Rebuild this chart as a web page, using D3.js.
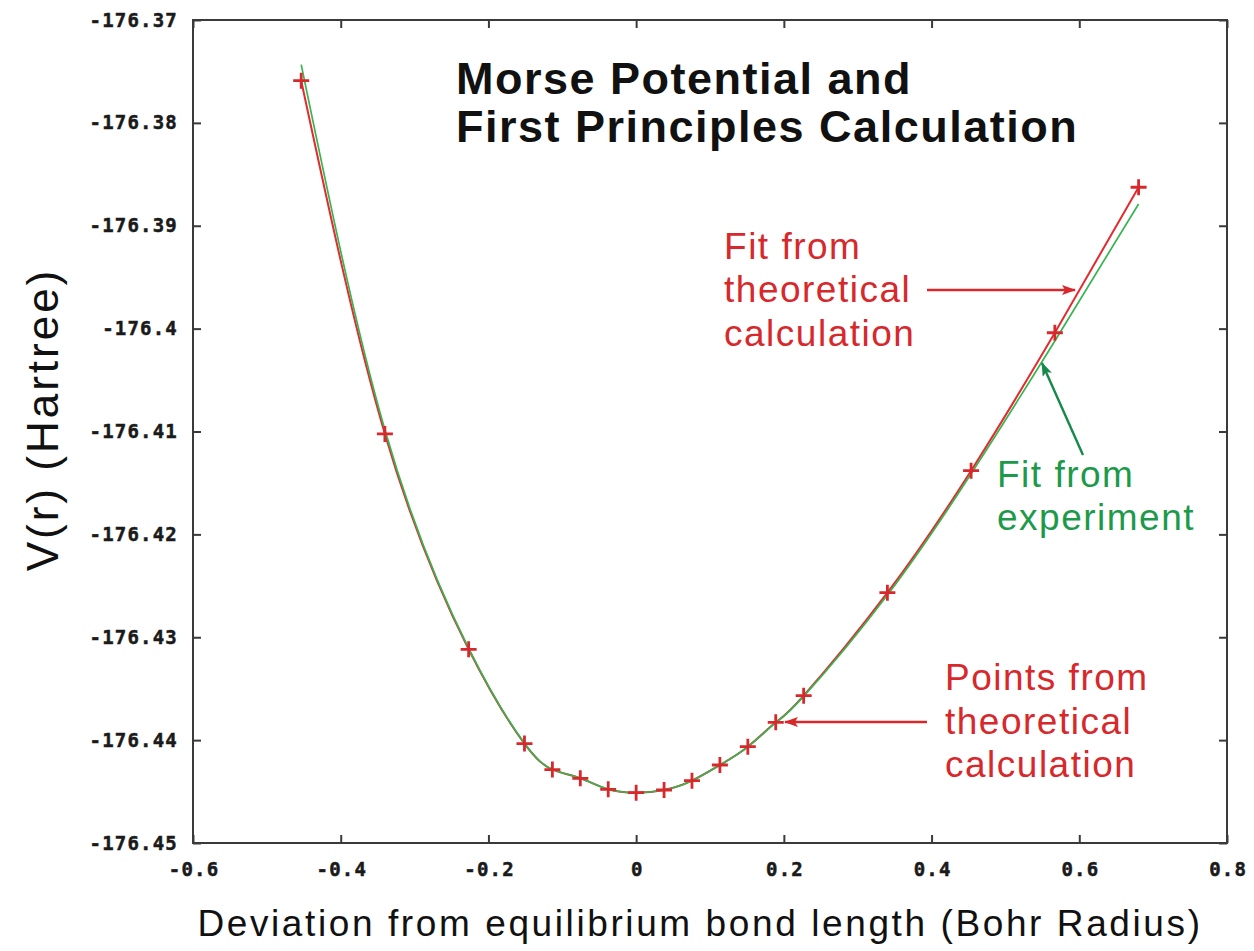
<!DOCTYPE html>
<html>
<head>
<meta charset="utf-8">
<script src="https://cdn.jsdelivr.net/npm/d3@7"></script>
<style>
  html, body { margin: 0; padding: 0; background: #fff; }
  svg { display: block; }
</style>
</head>
<body>
<svg id="chart" width="1254" height="951"></svg>
<script>
// ---------------- data ----------------
const xTickValues = [-0.6, -0.4, -0.2, 0, 0.2, 0.4, 0.6, 0.8];
const xTickLabels = ["-0.6", "-0.4", "-0.2", "0", "0.2", "0.4", "0.6", "0.8"];
const yTickValues = [-176.37, -176.38, -176.39, -176.40, -176.41, -176.42, -176.43, -176.44, -176.45];
const yTickLabels = ["-176.37", "-176.38", "-176.39", "-176.4", "-176.41", "-176.42", "-176.43", "-176.44", "-176.45"];

// points from theoretical calculation (deviation in Bohr, energy in Hartree)
const pointX = [-0.4535, -0.3402, -0.2268, -0.1512, -0.1134, -0.0756, -0.0378, 0.0, 0.0378, 0.0756,
                0.1134, 0.1512, 0.1890, 0.2268, 0.3402, 0.4535, 0.5669, 0.6803];
const pointV = [-176.37590, -176.41024, -176.43117, -176.44034, -176.44286, -176.44371, -176.44478, -176.44511, -176.44485, -176.44394,
                -176.44242, -176.44064, -176.43827, -176.43568, -176.42567, -176.41381, -176.40040, -176.38626];

// Morse fit from theoretical calculation
const theoryFitX = [-0.4535, -0.3402, -0.2268, -0.1512, -0.1134, -0.0756, -0.0378, 0.0, 0.0378, 0.0756,
                    0.1134, 0.1512, 0.1890, 0.2268, 0.3402, 0.4535, 0.5669, 0.6803];
const theoryFitV = [-176.37590, -176.41024, -176.43117, -176.44034, -176.44286, -176.44371, -176.44478, -176.44511, -176.44485, -176.44394,
                    -176.44242, -176.44064, -176.43827, -176.43568, -176.42567, -176.41381, -176.40040, -176.38626];

// Morse fit from experiment
const exptFitX = [-0.4535, -0.3402, -0.2268, -0.1512, -0.1134, -0.0756, -0.0378, 0.0, 0.0378, 0.0756,
                  0.1134, 0.1512, 0.1890, 0.2268, 0.3402, 0.4535, 0.5669, 0.6803];
const exptFitV = [-176.37434, -176.40984, -176.43107, -176.44030, -176.44284, -176.44371, -176.44478, -176.44511, -176.44485, -176.44394,
                  -176.44242, -176.44066, -176.43830, -176.43575, -176.42590, -176.41411, -176.40120, -176.38788];

// ---------------- layout ----------------
const svg = d3.select("#chart");
const L = 193, R = 1227, T = 20, B = 843;
const x = d3.scaleLinear().domain([-0.6, 0.8]).range([L, R]);
const y = d3.scaleLinear().domain([-176.45, -176.37]).range([B, T]);

const RED_LINE = "#e42a2e", GREEN_LINE = "#35b552";
const RED_TXT = "#d7282c", GREEN_TXT = "#1c9a4a", GREEN_ARROW = "#15894a";
const FRAME = "#3a3a3a";
const tickFont = "'DejaVu Sans Mono', monospace";
const annFont = "'Liberation Sans', Arial, sans-serif";

// ---------------- axes ----------------
function styleAxis(g) {
  g.select(".domain").remove();
  g.selectAll(".tick line").attr("stroke", FRAME).attr("stroke-width", 2);
  g.selectAll(".tick text")
    .attr("fill", "#1a1a1a")
    .attr("stroke", "#1a1a1a")
    .attr("stroke-width", 0.5)
    .style("font-family", tickFont)
    .style("font-weight", "bold")
    .style("font-size", "19px")
    .style("letter-spacing", "1.2px");
}

svg.append("g").attr("transform", `translate(${L},0)`)
  .call(d3.axisLeft(y).tickValues(yTickValues).tickSize(-8).tickPadding(15)
        .tickFormat((d, i) => yTickLabels[i]))
  .call(styleAxis);

svg.append("g").attr("transform", `translate(${R},0)`)
  .call(d3.axisRight(y).tickValues(yTickValues).tickSize(-8).tickFormat(""))
  .call(styleAxis);

const xb = svg.append("g").attr("transform", `translate(0,${B})`)
  .call(d3.axisBottom(x).tickValues(xTickValues).tickSize(-8)
        .tickFormat((d, i) => xTickLabels[i]))
  .call(styleAxis);
xb.selectAll(".tick text").attr("y", 33).attr("dy", 0).attr("dx", 0.6);

svg.append("g").attr("transform", `translate(0,${T})`)
  .call(d3.axisTop(x).tickValues(xTickValues).tickSize(-8).tickFormat(""))
  .call(styleAxis);

// frame
svg.append("rect")
  .attr("x", x(-0.6)).attr("y", y(-176.37))
  .attr("width", x(0.8) - x(-0.6)).attr("height", y(-176.45) - y(-176.37))
  .attr("fill", "none").attr("stroke", FRAME).attr("stroke-width", 2);

// ---------------- curves ----------------
const line = d3.line().x(d => x(d[0])).y(d => y(d[1])).curve(d3.curveNatural);

svg.append("path")
  .datum(theoryFitX.map((v, i) => [v, theoryFitV[i]]))
  .attr("d", line).attr("fill", "none")
  .attr("stroke", RED_LINE).attr("stroke-width", 2);

svg.append("path")
  .datum(exptFitX.map((v, i) => [v, exptFitV[i]]))
  .attr("d", line).attr("fill", "none")
  .attr("stroke", GREEN_LINE).attr("stroke-width", 1.7);

// points
svg.append("g").selectAll("path")
  .data(pointX.map((v, i) => [v, pointV[i]]))
  .join("path")
  .attr("transform", d => `translate(${x(d[0])},${y(d[1])})`)
  .attr("d", "M-8,0H8M0,-8V8")
  .attr("stroke", RED_TXT).attr("stroke-width", 2.8).attr("fill", "none");

// ---------------- annotations ----------------
const defs = svg.append("defs");
function marker(id, color) {
  defs.append("marker").attr("id", id)
    .attr("viewBox", "0 0 14 10").attr("refX", 13).attr("refY", 5)
    .attr("markerWidth", 14).attr("markerHeight", 10)
    .attr("markerUnits", "userSpaceOnUse").attr("orient", "auto")
    .append("path").attr("d", "M0,0L14,5L0,10L3,5Z").attr("fill", color);
}
marker("ahRed", RED_TXT);
marker("ahGreen", GREEN_ARROW);

function arrow(x1, y1, x2, y2, color, mid) {
  svg.append("line")
    .attr("x1", x(x1)).attr("y1", y(y1)).attr("x2", x(x2)).attr("y2", y(y2))
    .attr("stroke", color).attr("stroke-width", 2.4)
    .attr("marker-end", `url(#${mid})`);
}

function textBlock(lines, x0, baselines, color, size, ls, weight) {
  const t = svg.append("g");
  lines.forEach((s, i) => {
    t.append("text")
      .attr("x", x(x0)).attr("y", y(baselines[i]))
      .attr("fill", color)
      .style("font-family", annFont)
      .style("font-size", size + "px")
      .style("font-weight", weight || "normal")
      .style("letter-spacing", ls + "px")
      .text(s);
  });
}

// title
textBlock(["Morse Potential and", "First Principles Calculation"], -0.2439,
          [-176.37719, -176.38183], "#111", 45, 1.5, "bold");

// fit from theoretical calculation
textBlock(["Fit from", "theoretical", "calculation"], 0.1190,
          [-176.39323, -176.39746, -176.40169], RED_TXT, 37, 1.5);
arrow(0.3938, -176.39625, 0.5942, -176.39625, RED_TXT, "ahRed");

// fit from experiment
textBlock(["Fit from", "experiment"], 0.4886,
          [-176.41539, -176.41957], GREEN_TXT, 37, 1.5);
arrow(0.6050, -176.41228, 0.5495, -176.40334, GREEN_ARROW, "ahGreen");

// points from theoretical calculation
textBlock(["Points from", "theoretical", "calculation"], 0.4182,
          [-176.43513, -176.43936, -176.44358], RED_TXT, 37, 1.5);
arrow(0.3938, -176.43824, 0.2015, -176.43824, RED_TXT, "ahRed");

// axis titles
svg.append("text")
  .attr("x", (L + R) / 2 - 10).attr("y", 936)
  .attr("text-anchor", "middle").attr("fill", "#111")
  .style("font-family", annFont).style("font-size", "37px").style("letter-spacing", "2.6px")
  .text("Deviation from equilibrium bond length (Bohr Radius)");

svg.append("text")
  .attr("transform", `translate(58,${(T + B) / 2 - 12}) rotate(-90)`)
  .attr("text-anchor", "middle").attr("fill", "#111")
  .style("font-family", annFont).style("font-size", "44px").style("letter-spacing", "3px")
  .text("V(r) (Hartree)");
</script>
</body>
</html>
